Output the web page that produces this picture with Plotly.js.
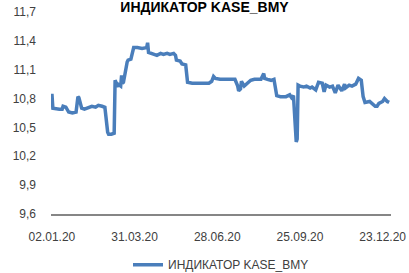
<!DOCTYPE html>
<html>
<head>
<meta charset="utf-8">
<script src="https://cdn.plot.ly/plotly-3.0.1.min.js"></script>
<style>html,body{margin:0;padding:0;background:#fff;}#chart{width:409px;height:273px;}</style>
</head>
<body>
<div id="chart"></div>
<script>
const seriesName = "ИНДИКАТОР KASE_BMY";
const chartTitle = "ИНДИКАТОР KASE_BMY";
const dates = [
"2020-01-02","2020-01-03","2020-01-10","2020-01-13","2020-01-14","2020-01-17","2020-01-20","2020-01-24","2020-01-28","2020-01-29",
"2020-01-30","2020-01-31","2020-02-03","2020-02-06","2020-02-10","2020-02-14","2020-02-18","2020-02-21","2020-02-25","2020-02-28",
"2020-03-02","2020-03-03","2020-03-06","2020-03-09","2020-03-10","2020-03-11","2020-03-12","2020-03-13","2020-03-16","2020-03-17",
"2020-03-18","2020-03-19","2020-03-23","2020-03-24","2020-03-27","2020-03-30","2020-04-03","2020-04-08","2020-04-13","2020-04-14",
"2020-04-15","2020-04-17","2020-04-21","2020-04-24","2020-04-28","2020-05-01","2020-05-05","2020-05-08","2020-05-12","2020-05-14",
"2020-05-15","2020-05-19","2020-05-21","2020-05-25","2020-05-27","2020-06-01","2020-06-10","2020-06-19","2020-06-22","2020-06-24",
"2020-06-26","2020-07-01","2020-07-10","2020-07-17","2020-07-20","2020-07-21","2020-07-23","2020-07-24","2020-07-27","2020-07-29",
"2020-08-03","2020-08-07","2020-08-14","2020-08-17","2020-08-18","2020-08-21","2020-08-25","2020-08-28","2020-08-31","2020-09-04",
"2020-09-10","2020-09-14","2020-09-16","2020-09-18","2020-09-21","2020-09-22","2020-09-23","2020-09-25","2020-09-29","2020-10-02",
"2020-10-06","2020-10-08","2020-10-12","2020-10-15","2020-10-19","2020-10-21","2020-10-23","2020-10-27","2020-10-30","2020-11-02",
"2020-11-05","2020-11-09","2020-11-12","2020-11-13","2020-11-17","2020-11-20","2020-11-24","2020-11-27","2020-11-30","2020-12-02",
"2020-12-04","2020-12-09","2020-12-11","2020-12-15","2020-12-17","2020-12-19","2020-12-23","2020-12-25","2020-12-28","2020-12-30"
];
const values = [
10.85,10.70,10.69,10.69,10.72,10.71,10.66,10.65,10.66,10.78,
10.82,10.81,10.70,10.69,10.71,10.72,10.71,10.73,10.72,10.71,
10.45,10.43,10.43,10.44,10.99,10.97,10.92,10.95,10.93,11.04,
10.96,10.97,11.18,11.20,11.21,11.33,11.33,11.32,11.33,11.38,
11.28,11.27,11.26,11.25,11.27,11.26,11.27,11.26,11.27,11.25,
11.20,11.19,11.16,11.15,10.97,10.96,10.96,10.96,10.98,11.03,
11.01,11.00,11.00,11.00,10.93,10.88,10.90,10.98,10.93,10.95,
10.99,11.00,11.00,11.06,11.01,11.00,10.99,11.00,10.83,10.82,
10.82,10.84,10.81,10.83,10.35,10.38,10.94,10.93,10.92,10.93,
10.91,10.92,10.89,10.97,10.96,10.87,10.94,10.92,10.93,10.86,
10.94,10.88,10.95,10.91,10.94,10.93,10.95,11.01,10.99,10.82,
10.76,10.77,10.75,10.72,10.72,10.75,10.77,10.80,10.77,10.76
];
const xTickVals = ["2020-01-02","2020-03-31","2020-06-28","2020-09-25","2020-12-23"];
const xTickText = ["02.01.20","31.03.20","28.06.20","25.09.20","23.12.20"];
const yTickVals = [9.6,9.9,10.2,10.5,10.8,11.1,11.4,11.7];
const yTickText = ["9,6","9,9","10,2","10,5","10,8","11,1","11,4","11,7"];

const font = {family: "Liberation Sans, Arial, sans-serif", size: 12, color: "#404040"};
Plotly.newPlot("chart", [{
  x: dates, y: values, type: "scatter", mode: "lines", name: seriesName,
  line: {color: "#4A7EBB", width: 3.5}
}], {
  width: 409, height: 273,
  margin: {l: 51, r: 18, t: 12, b: 59},
  paper_bgcolor: "#fff", plot_bgcolor: "#fff",
  font: font,
  title: {text: chartTitle, x: 0.5, xanchor: "center", y: 1, yref: "container", yanchor: "top",
          pad: {t: 2, b: 0},
          font: {family: "Liberation Sans, Arial, sans-serif", size: 14, color: "#000", weight: "bold"}},
  showlegend: true,
  legend: {orientation: "h", x: 0.5, xanchor: "center", y: 0.03, yref: "container", yanchor: "middle", font: font},
  xaxis: {type: "date", range: ["2020-01-01", "2021-01-01"], tickvals: xTickVals, ticktext: xTickText,
          showgrid: false, zeroline: false, showline: true, linecolor: "#868686", linewidth: 1.5,
          ticks: "", ticklabelstandoff: 11, tickangle: 0},
  yaxis: {range: [9.6, 11.7], tickvals: yTickVals, ticktext: yTickText, showgrid: false, zeroline: false,
          showline: false, ticks: "", ticklabelstandoff: 14}
}, {displayModeBar: false, staticPlot: true});
</script>
</body>
</html>
